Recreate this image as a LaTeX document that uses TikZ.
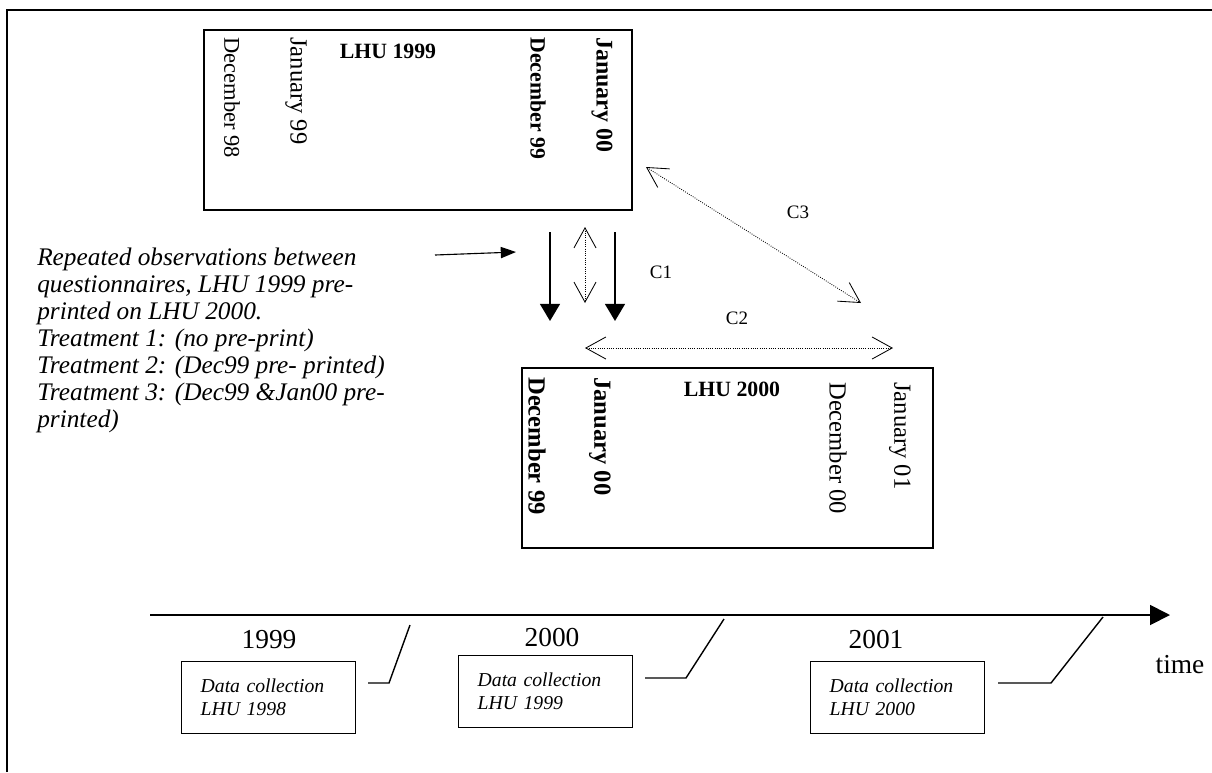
\documentclass[tikz,border=0pt]{standalone}
\usepackage{fontspec}
\setmainfont{Liberation Serif}
\usetikzlibrary{arrows.meta}
\tikzset{ %line width = 1pt,
  {sheet/.style} ={draw, line width=1.2pt, anchor=north west, inner sep=0},
  {month/.style} ={rotate=-90, anchor=west, inner sep=0,
                   font=\fontsize{#1}{#1}\selectfont},
  month/.default = 15.5,
  {bold month/.style} ={rotate=-90, anchor=west, inner sep=0,
                   font=\fontsize{#1}{#1}\selectfont\bfseries},
  bold month/.default = 15.5,
  {title/.style} ={inner sep=0, font=\fontsize{15.5}{18}\selectfont\bfseries},
  {tag/.style} ={inner sep=0, font=\fontsize{13.5}{16}\selectfont},
  {year/.style} ={inner sep=0, font=\fontsize{19.5}{22}\selectfont},
  {collect/.style} ={draw, line width=1pt, anchor=north west,
                minimum width=4.35cm, minimum height=1.8cm,
                inner xsep=0.475cm, text width=3.4cm, align=left,
                font=\fontsize{14}{16.3}\selectfont\itshape},
  {note/.style} ={inner sep=0, align=left, anchor=base west,
                  font=\fontsize{18}{19.14}\selectfont\itshape},
  {carry/.style} ={line width=1.3pt, -{Triangle[length=0.43cm, width=0.5cm]}},
  {compare/.style} ={densely dotted, line width=0.6pt,
                  {Straight Barb[length=0.5cm, width=0.55cm]}-{Straight Barb[length=0.5cm, width=0.55cm]}},
  {pointer/.style} ={line width=0.8pt, -{Triangle[length=0.38cm, width=0.28cm]}},
  {timeline/.style} ={line width=1.3pt, -{Triangle[length=0.5cm, width=0.5cm]}},
  {cut/.style} ={line width=1pt},
  {frame/.style} ={line width=1.5pt},
}
\begin{document}
\begin{tikzpicture}[x=0.025cm, y=-0.025cm]
\useasboundingbox (0,0) rectangle (1212,772);
\draw[frame] (7,772) -- (7,10) -- (1212,10);
% the two questionnaires
\node[sheet, minimum width=10.7cm, minimum height=4.5cm] (lhu99) at (203,29) {};
\node[title] (t99) at (388,51) {LHU 1999};
\node[month=16] (dec98) at (232,37) {December 98};
\node[month=17.5] (jan99) at (296,37) {January 99};
\node[bold month] (dec99a) at (538,37) {December 99};
\node[bold month=17] (jan00a) at (602,37) {January 00};
\node[sheet, minimum width=10.275cm, minimum height=4.5cm] (lhu00) at (521,367) {};
\node[title] (t00) at (732,389) {LHU 2000};
\node[bold month=17.5] (dec99b) at (537,377) {December 99};
\node[bold month=17.5] (jan00b) at (600,377) {January 00};
\node[month=17.5] (dec00) at (838,382) {December 00};
\node[month=17.5] (jan01) at (900,382) {January 01};
% repeated observations
\node[note] (obs) at (37,427) {Repeated observations between\\
  questionnaires, LHU 1999 pre-\\printed on LHU 2000.\\
  Treatment 1: (no pre-print)\\Treatment 2: (Dec99 pre- printed)\\
  Treatment 3: (Dec99 \&Jan00 pre-\\printed)};
\coordinate (p0) at (435,255);
\coordinate (p1) at (516,252);
\draw[pointer] (p0) -- (p1);
\coordinate (a0) at (550,232);
\coordinate (a1) at (550,321);
\coordinate (b0) at (615,232);
\coordinate (b1) at (615,321);
\path[carry] (a0) edge (a1) (b0) edge (b1);
\coordinate (c1a) at (585,227);
\coordinate (c1b) at (585,303);
\coordinate (c2a) at (585,348);
\coordinate (c2b) at (893,348);
\coordinate (c3a) at (646,167);
\coordinate (c3b) at (861,303);
\path[compare] (c1a) edge (c1b) (c2a) edge (c2b) (c3a) edge (c3b);
\node[tag] (k1) at (661,272) {C1};
\node[tag] (k2) at (737,318) {C2};
\node[tag] (k3) at (798,212) {C3};
% time axis
\coordinate (t0) at (150,615);
\coordinate (t1) at (1170,615);
\draw[timeline] (t0) -- (t1);
\draw[cut] (410,625) -- (389,683) -- (368,683);
\draw[cut] (724,619) -- (686,678) -- (645,678);
\draw[cut] (1103,617) -- (1051,683) -- (998,683);
\node[year] (y99) at (269,640) {1999};
\node[year] (y00) at (552,638) {2000};
\node[year] (y01) at (876,640) {2001};
\node[year] (time) at (1180,665) {time};
\node[collect] (dc98) at (181,661) {Data collection\\LHU 1998};
\node[collect] (dc99) at (458,655) {Data collection\\LHU 1999};
\node[collect] (dc00) at (810,661) {Data collection\\LHU 2000};
\end{tikzpicture}
\end{document}
